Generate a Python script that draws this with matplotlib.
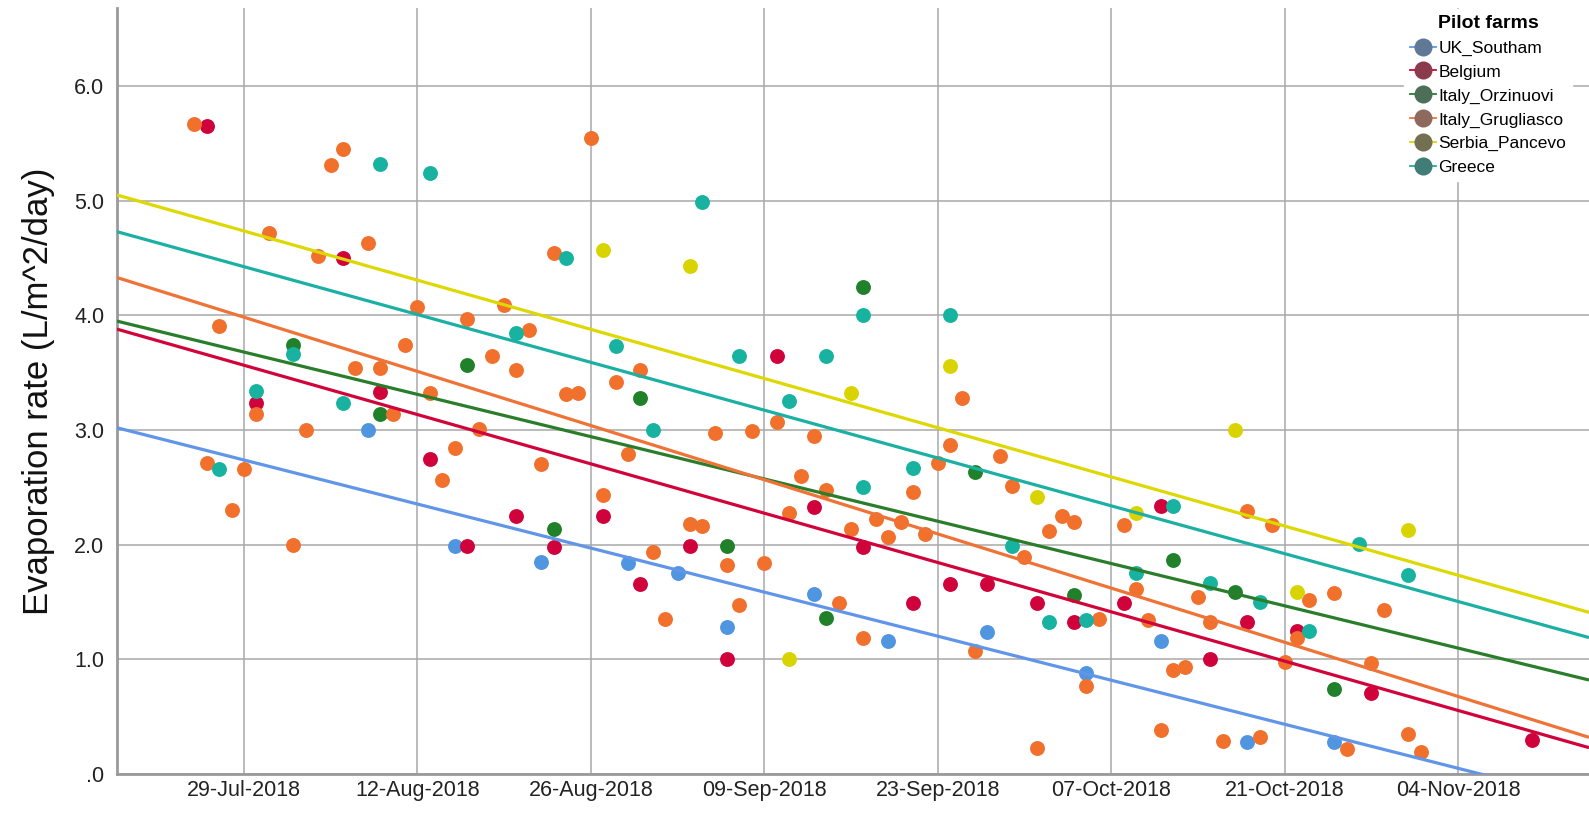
#!/usr/bin/env python3
"""Evaporation rate per pilot farm with linear fit lines (SPSS-style scatter)."""

import matplotlib
matplotlib.use("Agg")
import matplotlib.pyplot as plt
import matplotlib.dates as mdates
from matplotlib.lines import Line2D
from matplotlib.ticker import FuncFormatter
import pandas as pd

plt.rcParams["font.family"] = ["Liberation Sans Narrow", "Liberation Sans", "DejaVu Sans"]

FARMS = ["UK_Southam", "Belgium", "Italy_Orzinuovi", "Italy_Grugliasco", "Serbia_Pancevo", "Greece"]
POINT_COLORS = ["#5095e0", "#d0023c", "#21802a", "#f0702c", "#d9d400", "#17b2a0"]
LINE_COLORS = ["#6195e8", "#d0043a", "#2a7d2a", "#ef7236", "#dcd800", "#1cb0a4"]
LEGEND_DOTS = ["#5f7896", "#8c3a4e", "#4d6f57", "#8e6a5e", "#737052", "#3f7d76"]

uk_dates = ["2018-08-08", "2018-08-15", "2018-08-22", "2018-08-29", "2018-09-02", "2018-09-06",
            "2018-09-13", "2018-09-19", "2018-09-27", "2018-10-05", "2018-10-11", "2018-10-18",
            "2018-10-25"]
uk_vals = [3.00, 1.99, 1.85, 1.84, 1.75, 1.28, 1.57, 1.16, 1.24, 0.88, 1.16, 0.28, 0.28]

be_dates = ["2018-07-26", "2018-07-30", "2018-08-06", "2018-08-09", "2018-08-13", "2018-08-16",
            "2018-08-20", "2018-08-23", "2018-08-27", "2018-08-30", "2018-09-03", "2018-09-06",
            "2018-09-10", "2018-09-13", "2018-09-17", "2018-09-21", "2018-09-24", "2018-09-27",
            "2018-10-01", "2018-10-04", "2018-10-08", "2018-10-11", "2018-10-15", "2018-10-18",
            "2018-10-22", "2018-10-28", "2018-11-10"]
be_vals = [5.65, 3.24, 4.50, 3.33, 2.75, 1.99, 2.25, 1.98, 2.25, 1.66, 1.99, 1.00, 3.65, 2.33,
           1.98, 1.49, 1.66, 1.66, 1.49, 1.33, 1.49, 2.34, 1.00, 1.33, 1.25, 0.71, 0.30]

orz_dates = ["2018-08-02", "2018-08-09", "2018-08-16", "2018-08-23", "2018-08-30", "2018-09-06",
             "2018-09-14", "2018-09-17", "2018-09-26", "2018-10-04", "2018-10-12", "2018-10-17",
             "2018-10-25"]
orz_vals = [3.74, 3.14, 3.57, 2.14, 3.28, 1.99, 1.36, 4.25, 2.63, 1.56, 1.87, 1.59, 0.74]

gru_dates = ["2018-07-25", "2018-07-26", "2018-07-27", "2018-07-28", "2018-07-29", "2018-07-30",
             "2018-07-31", "2018-08-02", "2018-08-03", "2018-08-04", "2018-08-05", "2018-08-06",
             "2018-08-07", "2018-08-08", "2018-08-09", "2018-08-10", "2018-08-11", "2018-08-12",
             "2018-08-13", "2018-08-14", "2018-08-15", "2018-08-16", "2018-08-17", "2018-08-18",
             "2018-08-19", "2018-08-20", "2018-08-21", "2018-08-22", "2018-08-23", "2018-08-24",
             "2018-08-25", "2018-08-26", "2018-08-27", "2018-08-28", "2018-08-29", "2018-08-30",
             "2018-08-31", "2018-09-01", "2018-09-03", "2018-09-04", "2018-09-05", "2018-09-06",
             "2018-09-07", "2018-09-08", "2018-09-09", "2018-09-10", "2018-09-11", "2018-09-12",
             "2018-09-13", "2018-09-14", "2018-09-15", "2018-09-16", "2018-09-17", "2018-09-18",
             "2018-09-19", "2018-09-20", "2018-09-21", "2018-09-22", "2018-09-23", "2018-09-24",
             "2018-09-25", "2018-09-26", "2018-09-28", "2018-09-29", "2018-09-30", "2018-10-01",
             "2018-10-02", "2018-10-03", "2018-10-04", "2018-10-05", "2018-10-06", "2018-10-08",
             "2018-10-09", "2018-10-10", "2018-10-11", "2018-10-12", "2018-10-13", "2018-10-14",
             "2018-10-15", "2018-10-16", "2018-10-18", "2018-10-19", "2018-10-20", "2018-10-21",
             "2018-10-22", "2018-10-23", "2018-10-25", "2018-10-26", "2018-10-28", "2018-10-29",
             "2018-10-31", "2018-11-01"]
gru_vals = [5.67, 2.71, 3.91, 2.30, 2.66, 3.14, 4.72, 2.00, 3.00, 4.52, 5.31, 5.45,
            3.54, 4.63, 3.54, 3.14, 3.74, 4.07, 3.32, 2.56, 2.84, 3.97, 3.01, 3.65,
            4.09, 3.52, 3.87, 2.70, 4.54, 3.31, 3.32, 5.55, 2.43, 3.42, 2.79, 3.52,
            1.94, 1.35, 2.18, 2.16, 2.97, 1.82, 1.47, 2.99, 1.84, 3.07, 2.28, 2.60,
            2.95, 2.48, 1.49, 2.14, 1.19, 2.22, 2.07, 2.20, 2.46, 2.09, 2.71, 2.87,
            3.28, 1.07, 2.77, 2.51, 1.89, 0.23, 2.12, 2.25, 2.20, 0.77, 1.35, 2.17,
            1.61, 1.34, 0.38, 0.91, 0.93, 1.54, 1.33, 0.29, 2.29, 0.32, 2.17, 0.98,
            1.19, 1.52, 1.58, 0.22, 0.97, 1.43, 0.35, 0.19]

srb_dates = ["2018-08-27", "2018-09-03", "2018-09-11", "2018-09-16", "2018-09-24", "2018-10-01",
             "2018-10-09", "2018-10-17", "2018-10-22", "2018-10-31"]
srb_vals = [4.57, 4.43, 1.00, 3.32, 3.56, 2.42, 2.28, 3.00, 1.59, 2.13]

gr_dates = ["2018-07-27", "2018-07-30", "2018-08-02", "2018-08-06", "2018-08-09", "2018-08-13",
            "2018-08-20", "2018-08-24", "2018-08-28", "2018-08-31", "2018-09-04", "2018-09-07",
            "2018-09-11", "2018-09-14", "2018-09-17", "2018-09-17", "2018-09-21", "2018-09-24",
            "2018-09-29", "2018-10-02", "2018-10-05", "2018-10-09", "2018-10-12", "2018-10-15",
            "2018-10-19", "2018-10-23", "2018-10-27", "2018-10-31"]
gr_vals = [2.66, 3.34, 3.66, 3.24, 5.32, 5.24, 3.85, 4.50, 3.73, 3.00, 4.99, 3.65, 3.25, 3.65,
           4.00, 2.50, 2.67, 4.00, 1.99, 1.33, 1.34, 1.75, 2.34, 1.67, 1.50, 1.25, 2.01, 1.74]

# fit line values read at the left and right edges of the plot
X_START, X_END = "2018-07-18 18:00", "2018-11-14 13:40"
fit_start = [3.02, 3.88, 3.95, 4.33, 5.05, 4.73]
fit_end = [-0.24, 0.23, 0.82, 0.32, 1.41, 1.19]

TICK_DATES = pd.date_range("2018-07-29", "2018-11-04", freq="14D")


def main() -> None:
    series = [(uk_dates, uk_vals), (be_dates, be_vals), (orz_dates, orz_vals),
              (gru_dates, gru_vals), (srb_dates, srb_vals), (gr_dates, gr_vals)]
    x0, x1 = pd.Timestamp(X_START), pd.Timestamp(X_END)

    fig = plt.figure(figsize=(15.89, 8.23), dpi=100)
    ax = fig.add_axes([0.0736, 0.0595, 0.9264, 0.9307])

    for i, (dates, vals) in enumerate(series):
        ax.scatter(pd.to_datetime(dates), vals, s=115, color=POINT_COLORS[i], linewidths=0, zorder=3)
    for i in range(len(FARMS)):
        ax.plot([x0, x1], [fit_start[i], fit_end[i]], color=LINE_COLORS[i], lw=2.3,
                solid_capstyle="butt", zorder=4)

    ax.set_xlim(x0, x1)
    ax.set_ylim(0, 6.68)
    ax.set_xticks(TICK_DATES)
    ax.xaxis.set_major_formatter(mdates.DateFormatter("%d-%b-%Y"))
    ax.set_yticks([0, 1, 2, 3, 4, 5, 6])
    ax.yaxis.set_major_formatter(FuncFormatter(lambda v, _: ".0" if v == 0 else f"{v:.1f}"))
    ax.tick_params(axis="both", length=0, labelsize=15.5, colors="#222222")
    ax.tick_params(axis="x", pad=4)
    ax.tick_params(axis="y", pad=9)
    ax.grid(True, color="#a8a8a8", linewidth=1.1)
    ax.set_axisbelow(True)
    for side in ("top", "right"):
        ax.spines[side].set_visible(False)
    for side in ("left", "bottom"):
        ax.spines[side].set_color("#9a9a9a")
        ax.spines[side].set_linewidth(2.0)

    ax.set_ylabel("Evaporation rate (L/m^2/day)", fontsize=25, labelpad=14, color="#111111")

    handles = [
        Line2D([0], [0], color=LINE_COLORS[i], lw=1.3, marker="o", markersize=13,
               markerfacecolor=LEGEND_DOTS[i], markeredgewidth=0)
        for i in range(len(FARMS))
    ]
    leg = fig.legend(handles, FARMS, loc="upper right", bbox_to_anchor=(0.995, 1.0),
                     title="Pilot farms", fontsize=12.5, title_fontproperties={"weight": "bold", "size": 14},
                     frameon=True, framealpha=1.0, edgecolor="white", facecolor="white",
                     handlelength=1.5, handletextpad=0.15, labelspacing=0.5, borderpad=0.35)
    leg.set_zorder(10)
    leg.get_title().set_ha("center")

    fig.savefig("out.png", dpi=100)
    plt.close(fig)


if __name__ == "__main__":
    main()
